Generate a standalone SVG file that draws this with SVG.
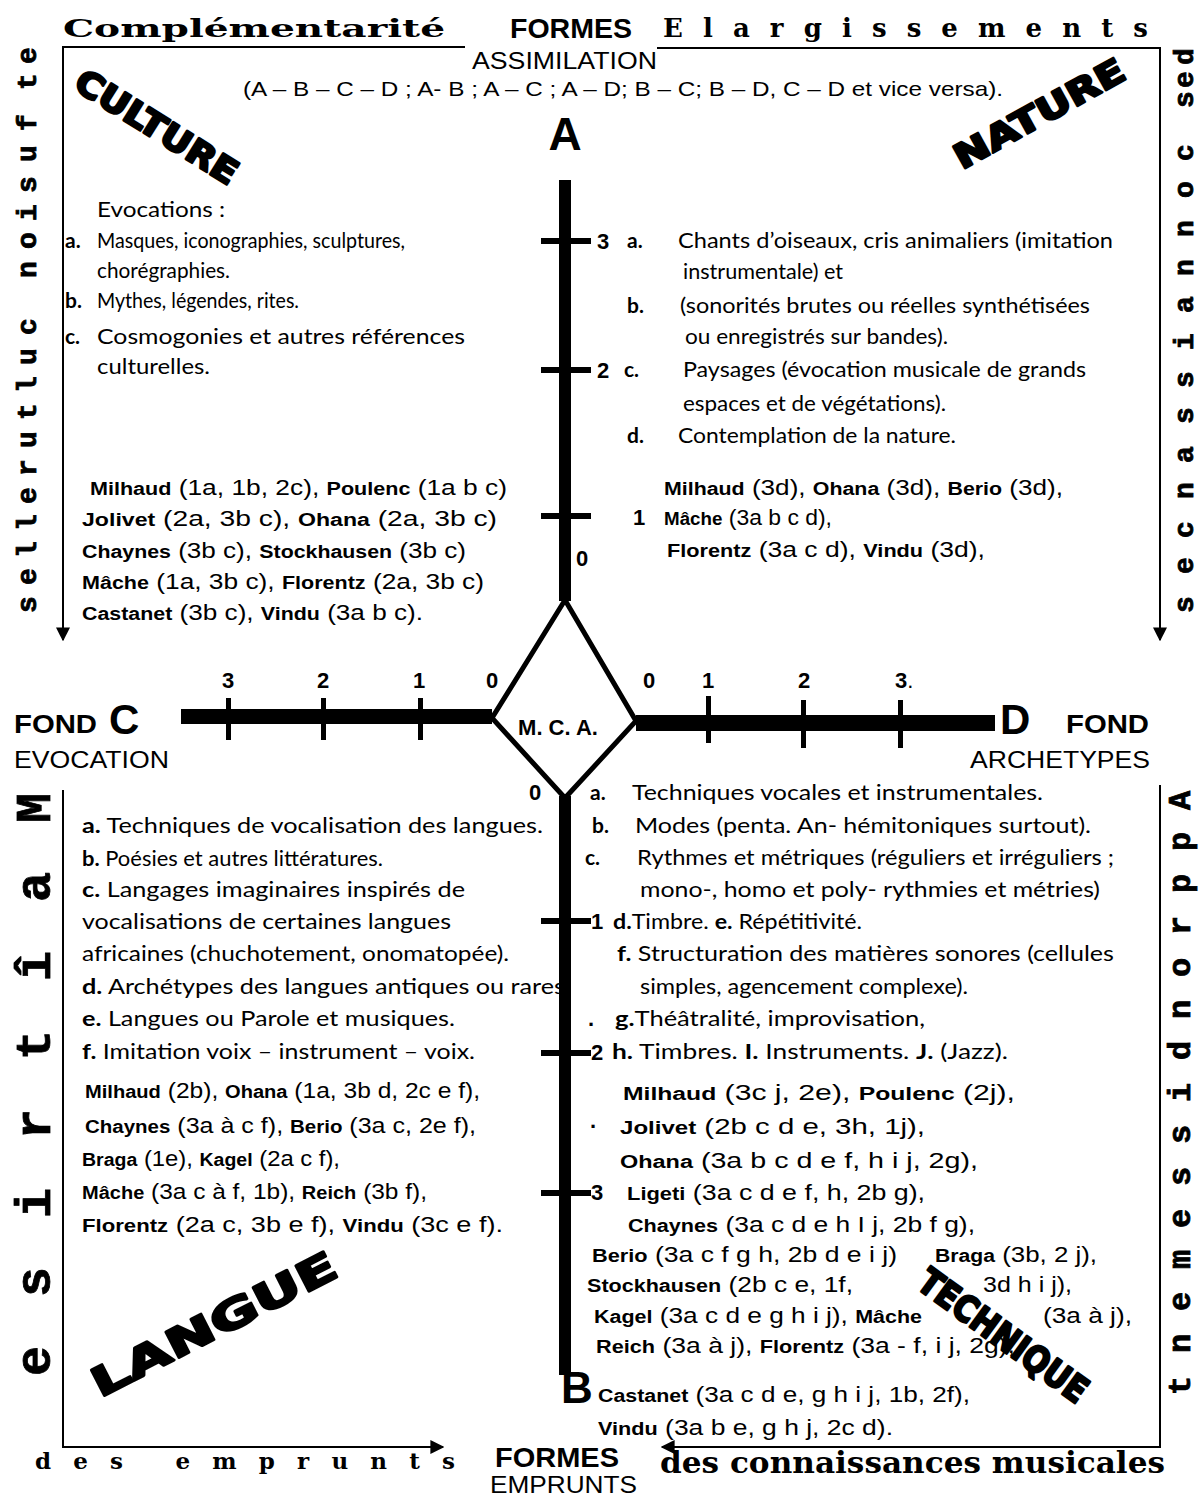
<svg xmlns="http://www.w3.org/2000/svg" width="1201" height="1499" viewBox="0 0 1201 1499">
<style>
text{fill:#000}
.b{font-family:Lato,"Open Sans",sans-serif;font-size:21px}
.bb{font-weight:bold}
.cp{font-family:"Liberation Sans",Arial,sans-serif;font-size:22px}
.nm{font-weight:bold;font-size:18px}
.lab{font-family:"Liberation Sans",Arial,sans-serif;font-weight:bold;font-size:22px}
.deco{font-family:"DejaVu Serif",serif;font-weight:bold}
.vt{font-family:"Liberation Mono","DejaVu Sans Mono",monospace;font-weight:bold;stroke:#000;stroke-width:0.8}
.big{font-family:"DejaVu Sans",sans-serif;font-weight:bold;stroke:#000;stroke-width:2.5;stroke-linejoin:round}
.hd{font-family:"Liberation Sans",Arial,sans-serif}
.fr{fill:none;stroke:#000;stroke-width:2}
</style>
<defs>
<marker id="ar" viewBox="0 0 10 10" refX="9" refY="5" markerWidth="14" markerHeight="14" markerUnits="userSpaceOnUse" orient="auto">
<path d="M0,0 L10,5 L0,10 z" fill="#000"/>
</marker>
</defs>

<g id="frame">
<polyline class="fr" points="465,47 63,47 63,640" marker-end="url(#ar)"/>
<polyline class="fr" points="657,48 1160,48 1160,640" marker-end="url(#ar)"/>
<polyline class="fr" points="63,790 63,1447 443,1447" marker-end="url(#ar)"/>
<polyline class="fr" points="1160,785 1160,1447 662,1447" marker-end="url(#ar)"/>
</g>

<g id="headers">
<text class="deco" x="63" y="37" font-size="25" textLength="382" lengthAdjust="spacingAndGlyphs">Complémentarité</text>
<text class="hd" x="510" y="38" font-size="28" font-weight="bold" textLength="122" lengthAdjust="spacingAndGlyphs">FORMES</text>
<text class="deco" x="663" y="37" font-size="26" textLength="485" lengthAdjust="spacing">Elargissements</text>
<text class="hd" x="472" y="69" font-size="24" textLength="185" lengthAdjust="spacingAndGlyphs">ASSIMILATION</text>
<text class="hd" x="243" y="96" font-size="21" textLength="760" lengthAdjust="spacingAndGlyphs">(A – B – C – D ; A- B ; A – C ; A – D; B – C; B – D, C – D et vice versa).</text>
<text class="deco" x="35" y="1469" font-size="23" textLength="420" lengthAdjust="spacing">des emprunts</text>
<text class="hd" x="495" y="1467" font-size="28" font-weight="bold" textLength="124" lengthAdjust="spacingAndGlyphs">FORMES</text>
<text class="hd" x="490" y="1493" font-size="24" textLength="147" lengthAdjust="spacingAndGlyphs">EMPRUNTS</text>
<text class="deco" x="660" y="1473" font-size="30" textLength="505" lengthAdjust="spacingAndGlyphs">des connaissances musicales</text>
</g>

<g id="side-texts">
<text class="vt" font-size="28" rotate="-90" x="36 36 36 36 36 36 36 36 36 36 36 36 36 36 36 36 36 36 36 36 36" y="64 90 110 131 162 193 221 249 278 306 335 365 393 420 448 476 504 531 558 585 613">et fusion culturelles</text>
<text class="vt" font-size="28" rotate="-90" x="1193 1193 1193 1193 1193 1193 1193 1193 1193 1193 1193 1193 1193 1193 1193 1193 1193" y="65 88 108 133 161 198 237 276 313 350 388 424 463 499 538 574 613">des connaissances</text>
<text class="vt" font-size="50" rotate="-90" x="50 50 50 50 50 50 50 50" y="823 902 981 1060 1139 1218 1297 1376">Maîtrise</text>
<text class="vt" font-size="32" rotate="-90" x="1190 1190 1190 1190 1190 1190 1190 1190 1190 1190 1190 1190 1190 1190 1190" y="810 851 893 935 977 1019 1060 1102 1144 1186 1228 1269 1311 1353 1395">Approndissement</text>
</g>

<g id="quadrant-words">
<text class="big" transform="translate(72,88) rotate(32)" font-size="34" textLength="185" lengthAdjust="spacingAndGlyphs">CULTURE</text>
<text class="big" transform="translate(962,170) rotate(-29)" font-size="34" textLength="190" lengthAdjust="spacingAndGlyphs">NATURE</text>
<text class="big" transform="translate(100,1398) rotate(-27)" font-size="40" textLength="270" lengthAdjust="spacingAndGlyphs">LANGUE</text>
<text class="big" transform="translate(915,1287) rotate(36)" font-size="36" textLength="200" lengthAdjust="spacingAndGlyphs">TECHNIQUE</text>
</g>

<g id="culture-text">
<text class="b" x="97" y="217" textLength="128" lengthAdjust="spacingAndGlyphs">Evocations :</text>
<text class="b bb" x="65" y="248">a.</text>
<text class="b" x="97" y="248" textLength="308" lengthAdjust="spacingAndGlyphs">Masques, iconographies, sculptures,</text>
<text class="b" x="97" y="278" textLength="133" lengthAdjust="spacingAndGlyphs">chorégraphies.</text>
<text class="b bb" x="65" y="308">b.</text>
<text class="b" x="97" y="308" textLength="202" lengthAdjust="spacingAndGlyphs">Mythes, légendes, rites.</text>
<text class="b bb" x="65" y="344">c.</text>
<text class="b" x="97" y="344" textLength="368" lengthAdjust="spacingAndGlyphs">Cosmogonies et autres références</text>
<text class="b" x="97" y="374" textLength="113" lengthAdjust="spacingAndGlyphs">culturelles.</text>
<text class="cp" x="90" y="495" textLength="417" lengthAdjust="spacingAndGlyphs"><tspan class="nm">Milhaud</tspan> (1a, 1b, 2c), <tspan class="nm">Poulenc</tspan> (1a b c)</text>
<text class="cp" x="82" y="526" textLength="415" lengthAdjust="spacingAndGlyphs"><tspan class="nm">Jolivet</tspan> (2a, 3b c), <tspan class="nm">Ohana</tspan> (2a, 3b c)</text>
<text class="cp" x="82" y="558" textLength="384" lengthAdjust="spacingAndGlyphs"><tspan class="nm">Chaynes</tspan> (3b c), <tspan class="nm">Stockhausen</tspan> (3b c)</text>
<text class="cp" x="82" y="589" textLength="402" lengthAdjust="spacingAndGlyphs"><tspan class="nm">Mâche</tspan> (1a, 3b c), <tspan class="nm">Florentz</tspan> (2a, 3b c)</text>
<text class="cp" x="82" y="620" textLength="341" lengthAdjust="spacingAndGlyphs"><tspan class="nm">Castanet</tspan> (3b c), <tspan class="nm">Vindu</tspan> (3a b c).</text>
</g>

<g id="nature-text">
<text class="b bb" x="627" y="248">a.</text>
<text class="b" x="678" y="248" textLength="435" lengthAdjust="spacingAndGlyphs">Chants d’oiseaux, cris animaliers (imitation</text>
<text class="b" x="683" y="279" textLength="160" lengthAdjust="spacingAndGlyphs">instrumentale) et</text>
<text class="b bb" x="627" y="313">b.</text>
<text class="b" x="680" y="313" textLength="410" lengthAdjust="spacingAndGlyphs">(sonorités brutes ou réelles synthétisées</text>
<text class="b" x="685" y="344" textLength="263" lengthAdjust="spacingAndGlyphs">ou enregistrés sur bandes).</text>
<text class="b bb" x="624" y="377">c.</text>
<text class="b" x="683" y="377" textLength="403" lengthAdjust="spacingAndGlyphs">Paysages (évocation musicale de grands</text>
<text class="b" x="683" y="411" textLength="263" lengthAdjust="spacingAndGlyphs">espaces et de végétations).</text>
<text class="b bb" x="627" y="443">d.</text>
<text class="b" x="678" y="443" textLength="278" lengthAdjust="spacingAndGlyphs">Contemplation de la nature.</text>
<text class="cp" x="664" y="495" textLength="399" lengthAdjust="spacingAndGlyphs"><tspan class="nm">Milhaud</tspan> (3d), <tspan class="nm">Ohana</tspan> (3d), <tspan class="nm">Berio</tspan> (3d),</text>
<text class="cp" x="664" y="525" textLength="168" lengthAdjust="spacingAndGlyphs"><tspan class="nm">Mâche</tspan> (3a b c d),</text>
<text class="cp" x="667" y="557" textLength="318" lengthAdjust="spacingAndGlyphs"><tspan class="nm">Florentz</tspan> (3a c d), <tspan class="nm">Vindu</tspan> (3d),</text>
</g>

<g id="langue-text">
<text class="b" x="82" y="833" textLength="461" lengthAdjust="spacingAndGlyphs"><tspan class="bb">a.</tspan> Techniques de vocalisation des langues.</text>
<text class="b" x="82" y="866" textLength="301" lengthAdjust="spacingAndGlyphs"><tspan class="bb">b.</tspan> Poésies et autres littératures.</text>
<text class="b" x="82" y="897" textLength="383" lengthAdjust="spacingAndGlyphs"><tspan class="bb">c.</tspan> Langages imaginaires inspirés de</text>
<text class="b" x="82" y="929" textLength="369" lengthAdjust="spacingAndGlyphs">vocalisations de certaines langues</text>
<text class="b" x="82" y="961" textLength="427" lengthAdjust="spacingAndGlyphs">africaines (chuchotement, onomatopée).</text>
<text class="b" x="82" y="994" textLength="483" lengthAdjust="spacingAndGlyphs"><tspan class="bb">d.</tspan> Archétypes des langues antiques ou rares</text>
<text class="b" x="82" y="1026" textLength="373" lengthAdjust="spacingAndGlyphs"><tspan class="bb">e.</tspan> Langues ou Parole et musiques.</text>
<text class="b" x="82" y="1059" textLength="393" lengthAdjust="spacingAndGlyphs"><tspan class="bb">f.</tspan> Imitation voix – instrument – voix.</text>
<text class="cp" x="85" y="1098" textLength="395" lengthAdjust="spacingAndGlyphs"><tspan class="nm">Milhaud</tspan> (2b), <tspan class="nm">Ohana</tspan> (1a, 3b d, 2c e f),</text>
<text class="cp" x="85" y="1133" textLength="391" lengthAdjust="spacingAndGlyphs"><tspan class="nm">Chaynes</tspan> (3a à c f), <tspan class="nm">Berio</tspan> (3a c, 2e f),</text>
<text class="cp" x="82" y="1166" textLength="258" lengthAdjust="spacingAndGlyphs"><tspan class="nm">Braga</tspan> (1e), <tspan class="nm">Kagel</tspan> (2a c f),</text>
<text class="cp" x="82" y="1199" textLength="345" lengthAdjust="spacingAndGlyphs"><tspan class="nm">Mâche</tspan> (3a c à f, 1b), <tspan class="nm">Reich</tspan> (3b f),</text>
<text class="cp" x="82" y="1232" textLength="421" lengthAdjust="spacingAndGlyphs"><tspan class="nm">Florentz</tspan> (2a c, 3b e f), <tspan class="nm">Vindu</tspan> (3c e f).</text>
</g>

<g id="technique-text">
<text class="b bb" x="590" y="800">a.</text>
<text class="b" x="632" y="800" textLength="411" lengthAdjust="spacingAndGlyphs">Techniques vocales et instrumentales.</text>
<text class="b bb" x="592" y="833">b.</text>
<text class="b" x="635" y="833" textLength="456" lengthAdjust="spacingAndGlyphs">Modes (penta. An- hémitoniques surtout).</text>
<text class="b bb" x="585" y="865">c.</text>
<text class="b" x="637" y="865" textLength="477" lengthAdjust="spacingAndGlyphs">Rythmes et métriques (réguliers et irréguliers ;</text>
<text class="b" x="640" y="897" textLength="460" lengthAdjust="spacingAndGlyphs">mono-, homo et poly- rythmies et métries)</text>
<text class="b" x="613" y="929" textLength="249" lengthAdjust="spacingAndGlyphs"><tspan class="bb">d.</tspan>Timbre. <tspan class="bb">e.</tspan> Répétitivité.</text>
<text class="b" x="617" y="961" textLength="497" lengthAdjust="spacingAndGlyphs"><tspan class="bb">f.</tspan> Structuration des matières sonores (cellules</text>
<text class="b" x="640" y="994" textLength="328" lengthAdjust="spacingAndGlyphs">simples, agencement complexe).</text>
<text class="b" x="615" y="1026" textLength="310" lengthAdjust="spacingAndGlyphs"><tspan class="bb">g.</tspan>Théâtralité, improvisation,</text>
<text class="b" x="612" y="1059" textLength="396" lengthAdjust="spacingAndGlyphs"><tspan class="bb">h.</tspan> Timbres. <tspan class="bb">I.</tspan> Instruments. <tspan class="bb">J.</tspan> (Jazz).</text>
<text class="cp" x="623" y="1100" textLength="392" lengthAdjust="spacingAndGlyphs"><tspan class="nm">Milhaud</tspan> (3c j, 2e), <tspan class="nm">Poulenc</tspan> (2j),</text>
<text class="cp" x="620" y="1134" textLength="305" lengthAdjust="spacingAndGlyphs"><tspan class="nm">Jolivet</tspan> (2b c d e, 3h, 1j),</text>
<text class="cp" x="620" y="1168" textLength="358" lengthAdjust="spacingAndGlyphs"><tspan class="nm">Ohana</tspan> (3a b c d e f, h i j, 2g),</text>
<text class="cp" x="627" y="1200" textLength="298" lengthAdjust="spacingAndGlyphs"><tspan class="nm">Ligeti</tspan> (3a c d e f, h, 2b g),</text>
<text class="cp" x="628" y="1232" textLength="347" lengthAdjust="spacingAndGlyphs"><tspan class="nm">Chaynes</tspan> (3a c d e h I j, 2b f g),</text>
<text class="cp" x="592" y="1262" textLength="305" lengthAdjust="spacingAndGlyphs"><tspan class="nm">Berio</tspan> (3a c f g h, 2b d e i j)</text>
<text class="cp" x="935" y="1262" textLength="162" lengthAdjust="spacingAndGlyphs"><tspan class="nm">Braga</tspan> (3b, 2 j),</text>
<text class="cp" x="587" y="1292" textLength="266" lengthAdjust="spacingAndGlyphs"><tspan class="nm">Stockhausen</tspan> (2b c e, 1f,</text>
<text class="cp" x="983" y="1292" textLength="89" lengthAdjust="spacingAndGlyphs">3d h i j),</text>
<text class="cp" x="594" y="1323" textLength="328" lengthAdjust="spacingAndGlyphs"><tspan class="nm">Kagel</tspan> (3a c d e g h i j), <tspan class="nm">Mâche</tspan></text>
<text class="cp" x="1043" y="1323" textLength="89" lengthAdjust="spacingAndGlyphs">(3a à j),</text>
<text class="cp" x="596" y="1353" textLength="419" lengthAdjust="spacingAndGlyphs"><tspan class="nm">Reich</tspan> (3a à j), <tspan class="nm">Florentz</tspan> (3a - f, i j, 2g),</text>
<text class="cp" x="598" y="1402" textLength="372" lengthAdjust="spacingAndGlyphs"><tspan class="nm">Castanet</tspan> (3a c d e, g h i j, 1b, 2f),</text>
<text class="cp" x="598" y="1435" textLength="295" lengthAdjust="spacingAndGlyphs"><tspan class="nm">Vindu</tspan> (3a b e, g h j, 2c d).</text>
</g>

<g id="axes">
<rect x="559" y="180" width="12" height="421"/>
<rect x="559" y="796" width="12" height="579"/>
<rect x="181" y="709" width="311" height="15"/>
<rect x="636" y="715" width="359" height="16"/>
<rect x="541" y="238" width="50" height="6"/>
<rect x="541" y="367" width="50" height="6"/>
<rect x="541" y="513" width="50" height="6"/>
<rect x="541" y="918" width="50" height="6"/>
<rect x="541" y="1050" width="50" height="6"/>
<rect x="541" y="1190" width="50" height="6"/>
<rect x="226" y="698" width="5" height="42"/>
<rect x="321" y="698" width="5" height="42"/>
<rect x="418" y="698" width="5" height="42"/>
<rect x="706" y="696" width="5" height="47"/>
<rect x="801" y="700" width="5" height="48"/>
<rect x="898" y="700" width="5" height="48"/>
</g>

<g id="mca">
<polygon points="565,600 636,721 565,798 492,718" fill="#fff" stroke="#000" stroke-width="5" stroke-linejoin="miter"/>
<text class="lab" x="558" y="735" font-size="20" text-anchor="middle">M. C. A.</text>
</g>

<g id="axis-labels">
<text class="hd" x="565" y="150" font-size="46" font-weight="bold" text-anchor="middle">A</text>
<text class="hd" x="577" y="1403" font-size="44" font-weight="bold" text-anchor="middle">B</text>
<text class="hd" x="14" y="733" font-size="26" font-weight="bold" textLength="83" lengthAdjust="spacingAndGlyphs">FOND</text>
<text class="hd" x="109" y="734" font-size="42" font-weight="bold">C</text>
<text class="hd" x="14" y="768" font-size="24" textLength="155" lengthAdjust="spacingAndGlyphs">EVOCATION</text>
<text class="hd" x="1000" y="734" font-size="42" font-weight="bold">D</text>
<text class="hd" x="1066" y="733" font-size="26" font-weight="bold" textLength="83" lengthAdjust="spacingAndGlyphs">FOND</text>
<text class="hd" x="970" y="768" font-size="24" textLength="180" lengthAdjust="spacingAndGlyphs">ARCHETYPES</text>
<text class="lab" x="228" y="688" text-anchor="middle">3</text>
<text class="lab" x="323" y="688" text-anchor="middle">2</text>
<text class="lab" x="419" y="688" text-anchor="middle">1</text>
<text class="lab" x="492" y="688" text-anchor="middle">0</text>
<text class="lab" x="649" y="688" text-anchor="middle">0</text>
<text class="lab" x="708" y="688" text-anchor="middle">1</text>
<text class="lab" x="804" y="688" text-anchor="middle">2</text>
<text class="lab" x="895" y="688">3<tspan font-weight="normal">.</tspan></text>
<text class="lab" x="597" y="249">3</text>
<text class="lab" x="597" y="378">2</text>
<text class="lab" x="633" y="525">1</text>
<text class="lab" x="576" y="566">0</text>
<text class="lab" x="529" y="800">0</text>
<text class="lab" x="591" y="929">1</text>
<text class="lab" x="591" y="1060">2</text>
<text class="lab" x="591" y="1200">3</text>
<text class="lab" x="588" y="1026" font-weight="normal" font-size="18">.</text>
<text class="lab" x="590" y="1128" font-weight="normal" font-size="18">.</text>
</g>
</svg>
